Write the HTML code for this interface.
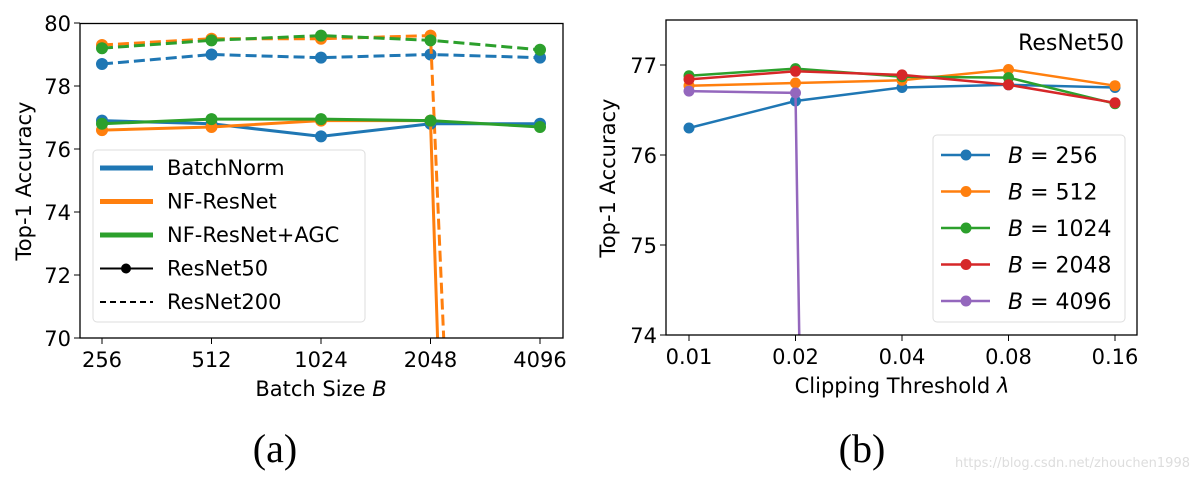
<!DOCTYPE html>
<html><head><meta charset="utf-8"><style>
html,body{margin:0;background:#fff;width:1194px;height:478px;overflow:hidden}
svg{display:block}
svg text{font-family:"DejaVu Sans","Liberation Sans",sans-serif;fill:#000}
</style></head><body>
<svg id="s" width="1194" height="478">
<defs>
<clipPath id="ca"><rect x="80" y="23" width="483" height="315"/></clipPath>
<clipPath id="cb"><rect x="666" y="20" width="471" height="315"/></clipPath>
</defs>
<g id="ga"></g>
<g id="gb"></g>
<text x="275" y="462" font-size="40" text-anchor="middle" style="font-family:'Liberation Serif',serif">(a)</text>
<text x="862" y="462" font-size="40" text-anchor="middle" style="font-family:'Liberation Serif',serif">(b)</text>
<text x="1190" y="467" font-size="13" text-anchor="end" style="fill:#ddd">https://blog.csdn.net/zhouchen1998</text>
</svg>
<script>
const catsA=["256","512","1024","2048","4096"];
const bnR50=[76.9,76.8,76.4,76.8,76.8];
const nfR50=[76.6,76.7,76.9,76.9,-30];
const agcR50=[76.8,76.95,76.95,76.9,76.7];
const bnR200=[78.7,79.0,78.9,79.0,78.9];
const nfR200=[79.3,79.5,79.5,79.6,0];
const agcR200=[79.2,79.45,79.6,79.45,79.15];
const yTicksA=[70,72,74,76,78,80];
const catsB=["0.01","0.02","0.04","0.08","0.16"];
const b256=[76.3,76.6,76.75,76.78,76.75];
const b512=[76.77,76.8,76.83,76.95,76.77];
const b1024=[76.88,76.96,76.87,76.86,76.57];
const b2048=[76.84,76.93,76.89,76.78,76.58];
const b4096=[76.71,76.69,0,0,0];
const yTicksB=[74,75,76,77];
const labelsB=["256","512","1024","2048","4096"];
const C={blue:"#1f77b4",orange:"#ff7f0e",green:"#2ca02c",red:"#d62728",purple:"#9467bd"};
const NS="http://www.w3.org/2000/svg";
const FS=21;
function mk(p,t,a){const e=document.createElementNS(NS,t);for(const k in a)e.setAttribute(k,a[k]);p.appendChild(e);return e;}
// chart A
const ga=document.getElementById('ga');
const xA=i=>102+i*109.5, yA=v=>338-(v-70)*31.5;
function seriesA(vals,col,dash,name){
 const g=mk(ga,'g',{'clip-path':'url(#ca)'});
 
 
 mk(g,'polyline',{points:vals.map((v,i)=>xA(i)+','+yA(v)).join(' '),fill:'none',stroke:col,'stroke-width':3,'stroke-dasharray':dash?'11,5':'none'});
 vals.forEach((v,i)=>{if(v>60){const c=mk(g,'circle',{cx:xA(i),cy:yA(v),r:6,fill:col});}});
}
seriesA(bnR200,C.blue,1,'batchnorm-resnet200');
seriesA(nfR200,C.orange,1,'nf-resnet200');
seriesA(agcR200,C.green,1,'agc-resnet200');
seriesA(bnR50,C.blue,0,'batchnorm-resnet50');
seriesA(nfR50,C.orange,0,'nf-resnet50');
seriesA(agcR50,C.green,0,'agc-resnet50');
mk(ga,'rect',{x:80,y:23.5,width:483,height:314.5,fill:'none',stroke:'#000','stroke-width':1.3});
yTicksA.forEach(v=>{mk(ga,'line',{x1:74,x2:80,y1:yA(v),y2:yA(v),stroke:'#000'});const t=mk(ga,'text',{x:71,y:yA(v)+8,'font-size':FS,'text-anchor':'end'});t.textContent=v;});
catsA.forEach((c,i)=>{mk(ga,'line',{x1:xA(i),x2:xA(i),y1:338,y2:344,stroke:'#000'});const t=mk(ga,'text',{x:xA(i),y:367,'font-size':FS,'text-anchor':'middle'});t.textContent=c;});
let t=mk(ga,'text',{x:321,y:396,'font-size':FS,'text-anchor':'middle'});t.innerHTML='Batch Size <tspan font-style="italic">B</tspan>';
t=mk(ga,'text',{x:0,y:0,'font-size':FS,'text-anchor':'middle',transform:'translate(31,181) rotate(-90)'});t.textContent='Top-1 Accuracy';
const la=mk(ga,'g',{});
mk(la,'rect',{x:93,y:150,width:272,height:172,rx:4,fill:'#fff','fill-opacity':0.85,stroke:'#ddd'});
[['BatchNorm',C.blue,5,''],['NF-ResNet',C.orange,5,''],['NF-ResNet+AGC',C.green,5,''],['ResNet50','#000',2,'dot'],['ResNet200','#000',2,'dash']].forEach((e,i)=>{
 const y=168+i*33.5;const g=mk(la,'g',{});
 mk(g,'line',{x1:100,x2:153,y1:y,y2:y,stroke:e[1],'stroke-width':e[2],'stroke-dasharray':e[3]=='dash'?'6,4':'none'});
 if(e[3]=='dot')mk(g,'circle',{cx:126,cy:y,r:5,fill:'#000'});
 const tx=mk(g,'text',{x:167,y:y+7,'font-size':FS});tx.textContent=e[0];});
// chart B
const gb=document.getElementById('gb');
const xB=i=>689+i*106.5, yB=v=>335-(v-74)*90;
function seriesB(vals,col,name){
 const g=mk(gb,'g',{'clip-path':'url(#cb)'});
 
 
 mk(g,'polyline',{points:vals.map((v,i)=>xB(i)+','+yB(v)).join(' '),fill:'none',stroke:col,'stroke-width':2.5});
 vals.forEach((v,i)=>{if(v>70){const c=mk(g,'circle',{cx:xB(i),cy:yB(v),r:5.5,fill:col});}});
}
const serB=[[b256,C.blue],[b512,C.orange],[b1024,C.green],[b2048,C.red],[b4096,C.purple]];
serB.forEach((s,i)=>seriesB(s[0],s[1],'series-b-'+labelsB[i]));
mk(gb,'rect',{x:666,y:20,width:471,height:315,fill:'none',stroke:'#000','stroke-width':1.3});
yTicksB.forEach(v=>{mk(gb,'line',{x1:660,x2:666,y1:yB(v),y2:yB(v),stroke:'#000'});const t=mk(gb,'text',{x:657,y:yB(v)+8,'font-size':FS,'text-anchor':'end'});t.textContent=v;});
catsB.forEach((c,i)=>{mk(gb,'line',{x1:xB(i),x2:xB(i),y1:335,y2:341,stroke:'#000'});const t=mk(gb,'text',{x:xB(i),y:364,'font-size':FS,'text-anchor':'middle'});t.textContent=c;});
t=mk(gb,'text',{x:902,y:393,'font-size':FS,'text-anchor':'middle'});t.innerHTML='Clipping Threshold <tspan font-style="italic">λ</tspan>';
t=mk(gb,'text',{x:0,y:0,'font-size':FS,'text-anchor':'middle',transform:'translate(615,178) rotate(-90)'});t.textContent='Top-1 Accuracy';
t=mk(gb,'text',{x:1124,y:50,'font-size':22,'text-anchor':'end'});t.textContent='ResNet50';
const lb=mk(gb,'g',{});
mk(lb,'rect',{x:933,y:135,width:192,height:187,rx:4,fill:'#fff','fill-opacity':0.85,stroke:'#ddd'});
serB.forEach((s,i)=>{const y=155+i*36.5;const g=mk(lb,'g',{});
 mk(g,'line',{x1:941,x2:990,y1:y,y2:y,stroke:s[1],'stroke-width':2.5});mk(g,'circle',{cx:966,cy:y,r:5.5,fill:s[1]});
 const tx=mk(g,'text',{x:1008,y:y+8,'font-size':22});tx.innerHTML='<tspan font-style="italic">B</tspan> = '+labelsB[i];});
</script>
</body></html>
